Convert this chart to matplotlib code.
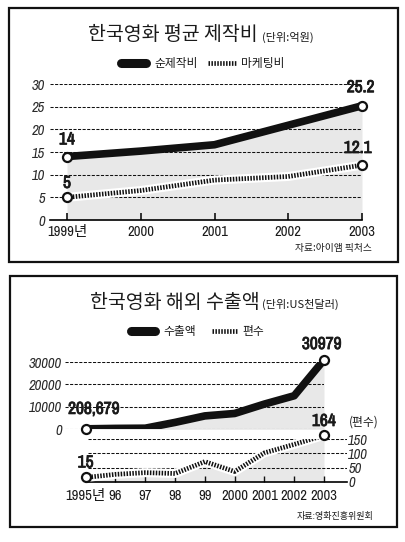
import matplotlib

matplotlib.use("Agg")

import matplotlib.patheffects as pe
import matplotlib.pyplot as plt
from matplotlib.lines import Line2D
from matplotlib.patches import Rectangle

W, H = 406, 542

KR = ["Noto Sans CJK KR", "DejaVu Sans"]
NUM = ["Liberation Sans Narrow", "Archivo Narrow", "PT Sans Narrow", "Roboto Condensed",
       "Noto Sans CJK KR", "DejaVu Sans"]
INK = "#1a1a1a"
FILL = "#e8e8e8"
BOLDEN = [pe.withStroke(linewidth=0.6, foreground=INK)]

# 한국영화 평균 제작비 (억원)
cost_years = [1999, 2000, 2001, 2002, 2003]
cost_tick_labels = ["1999년", "2000", "2001", "2002", "2003"]
production_cost = [14, 15.2, 16.6, 20.9, 25.2]
marketing_cost = [5, 6.5, 8.8, 9.6, 12.1]
cost_yticks = [0, 5, 10, 15, 20, 25, 30]

# 한국영화 해외 수출액 (US천달러) / 편수
export_years = [1995, 1996, 1997, 1998, 1999, 2000, 2001, 2002, 2003]
export_tick_labels = ["1995년", "96", "97", "98", "99", "2000", "2001", "2002", "2003"]
export_amount = [208.679, 404, 493, 3075, 5969, 7054, 11250, 14952, 30979]
export_amount_labels = ["208,679", "30979"]
export_count = [15, 26, 32, 29, 71, 36, 102, 132, 164]
amount_yticks = [0, 10000, 20000, 30000]
count_yticks = [0, 50, 100, 150]


def px_axes(fig, left, top, right, bottom):
    return fig.add_axes([left / W, 1 - bottom / H, (right - left) / W, (bottom - top) / H])


def ftext(fig, x, y, s, **kw):
    kw.setdefault("color", INK)
    fig.text(x / W, 1 - y / H, s, **kw)


def frame(fig, left, top, right, bottom):
    fig.add_artist(Rectangle((left / W, 1 - bottom / H), (right - left) / W, (bottom - top) / H,
                             transform=fig.transFigure, fill=False, lw=1.6, ec="#111"))


def swatch(fig, x0, x1, y, **kw):
    fig.add_artist(Line2D([x0 / W, x1 / W], [1 - y / H, 1 - y / H], transform=fig.transFigure, **kw))


def legend_row(fig, y, solid, dotted, solid_text, dotted_text):
    swatch(fig, solid[0], solid[1], y, color="#111", lw=6.5, solid_capstyle="round")
    ftext(fig, solid[1] + 8, y, solid_text, family=KR, fontsize=8.5, ha="left", va="center")
    swatch(fig, dotted[0], dotted[1], y, color="#111", lw=3.4, dashes=(0.32, 0.3))
    ftext(fig, dotted[1] + 5, y, dotted_text, family=KR, fontsize=8.5, ha="left", va="center")


def grid(ax, values, xmin=0.0, xmax=1.0):
    for v in values:
        ax.axhline(v, xmin=xmin, xmax=xmax, color="#111", lw=0.75, ls=(0, (3, 1.4)), zorder=2)


def clean(ax):
    for side in ("top", "right", "left", "bottom"):
        ax.spines[side].set_visible(False)
    ax.set_facecolor("none")


def solid_series(ax, x, y):
    ax.fill_between(x, y, 0, color=FILL, lw=0, zorder=1)
    ax.plot(x, y, color="#111", lw=5.5, solid_capstyle="round", solid_joinstyle="round", zorder=5)
    ax.plot([x[0], x[-1]], [y[0], y[-1]], "o", ms=6.5, mfc="white", mec="#111", mew=1.6,
            zorder=6, clip_on=False)


def dotted_series(ax, x, y, fill=False):
    if fill:
        ax.fill_between(x, y, 0, color=FILL, lw=0, zorder=1)
    ax.plot(x, y, color="white", lw=6.5, solid_capstyle="butt", zorder=3)
    ax.plot(x, y, color="#111", lw=3.4, dashes=(0.32, 0.3), zorder=4)
    ax.plot([x[0], x[-1]], [y[0], y[-1]], "o", ms=6.5, mfc="white", mec="#111", mew=1.6,
            zorder=6, clip_on=False)


def point_label(ax, x, y, s, dx, dy):
    ax.annotate(s, (x, y), xytext=(dx, dy), textcoords="offset points", ha="center", va="center",
                family=NUM, fontsize=12.5, fontweight="bold", color=INK, zorder=7,
                annotation_clip=False, path_effects=BOLDEN)


def style_yticks(ax, ticks, pad):
    ax.set_yticks(ticks)
    ax.set_yticklabels([f"{t:g}" for t in ticks], family=NUM, fontsize=10.5, style="italic", color="#2a2a2a")
    ax.tick_params(axis="y", length=0, pad=pad)


fig = plt.figure(figsize=(W / 100, H / 100), dpi=100, facecolor="white")

# ---------- 평균 제작비 ----------
frame(fig, 9, 8, 398, 262)
ftext(fig, 88, 35, "한국영화 평균 제작비", family=KR, fontsize=14, fontweight="medium", ha="left", va="center")
ftext(fig, 262, 37, "(단위:억원)", family=KR, fontsize=8, ha="left", va="center")
legend_row(fig, 63, (121, 146), (208, 236), "순제작비", "마케팅비")

ax = px_axes(fig, 50, 84, 362, 220)
clean(ax)
ax.set_xlim(1999 - 17 / 73.75, 2003)
ax.set_ylim(0, 30)
grid(ax, cost_yticks[1:])
ax.spines["bottom"].set_visible(True)
ax.spines["bottom"].set_linewidth(1.2)
solid_series(ax, cost_years, production_cost)
dotted_series(ax, cost_years, marketing_cost)
point_label(ax, cost_years[0], production_cost[0], f"{production_cost[0]:g}", 0, 12)
point_label(ax, cost_years[0], marketing_cost[0], f"{marketing_cost[0]:g}", 0, 10)
point_label(ax, cost_years[-1], production_cost[-1], f"{production_cost[-1]:g}", -1, 13)
point_label(ax, cost_years[-1], marketing_cost[-1], f"{marketing_cost[-1]:g}", -3, 12)
ax.set_xticks(cost_years)
ax.set_xticklabels(cost_tick_labels, family=NUM, fontsize=10.5, color=INK)
ax.tick_params(axis="x", direction="in", length=5, width=1.2, pad=3.5, color="#111")
style_yticks(ax, cost_yticks, 3.5)
ftext(fig, 372, 248, "자료:아이앰 픽처스", family=KR, fontsize=7, ha="right", va="center")

# ---------- 해외 수출액 ----------
frame(fig, 10, 276, 397, 527)
ftext(fig, 90, 302, "한국영화 해외 수출액", family=KR, fontsize=14, fontweight="medium", ha="left", va="center")
ftext(fig, 262, 304, "(단위:US천달러)", family=KR, fontsize=8, ha="left", va="center")
legend_row(fig, 331, (131, 155), (212, 237), "수출액", "편수")

ax2 = px_axes(fig, 65, 362, 324, 429.3)
clean(ax2)
ax2.set_xlim(1995 - 20.7 / 29.8, 2003)
ax2.set_ylim(0, 30000)
grid(ax2, amount_yticks)
solid_series(ax2, export_years, export_amount)
point_label(ax2, export_years[0], export_amount[0], export_amount_labels[0], 6, 14)
point_label(ax2, export_years[-1], export_amount[-1], export_amount_labels[1], -1.5, 11)
ax2.set_xticks([])
style_yticks(ax2, amount_yticks, 2)

ax3 = px_axes(fig, 85.7, 439.3, 347, 481.7)
clean(ax3)
ax3.set_xlim(1995, 2003 + 23 / 29.8)
ax3.set_ylim(0, 150)
grid(ax3, count_yticks[1:], xmin=0.01)
ax3.spines["bottom"].set_visible(True)
ax3.spines["bottom"].set_linewidth(1.2)
dotted_series(ax3, export_years, export_count, fill=True)
point_label(ax3, export_years[0], export_count[0], f"{export_count[0]}", 0, 10.5)
point_label(ax3, export_years[-1], export_count[-1], f"{export_count[-1]}", 0, 10)
ax3.set_xticks(export_years)
ax3.set_xticklabels(export_tick_labels, family=NUM, fontsize=10.5, color=INK)
ax3.tick_params(axis="x", direction="in", length=4, width=1, pad=5, color="#111")
ax3.yaxis.tick_right()
style_yticks(ax3, count_yticks, 1)
ftext(fig, 364, 422, "(편수)", family=KR, fontsize=8.5, ha="center", va="center")
ftext(fig, 373, 516, "자료:영화진흥위원회", family=KR, fontsize=6.5, ha="right", va="center")

fig.savefig("out.png", dpi=100, facecolor="white")
